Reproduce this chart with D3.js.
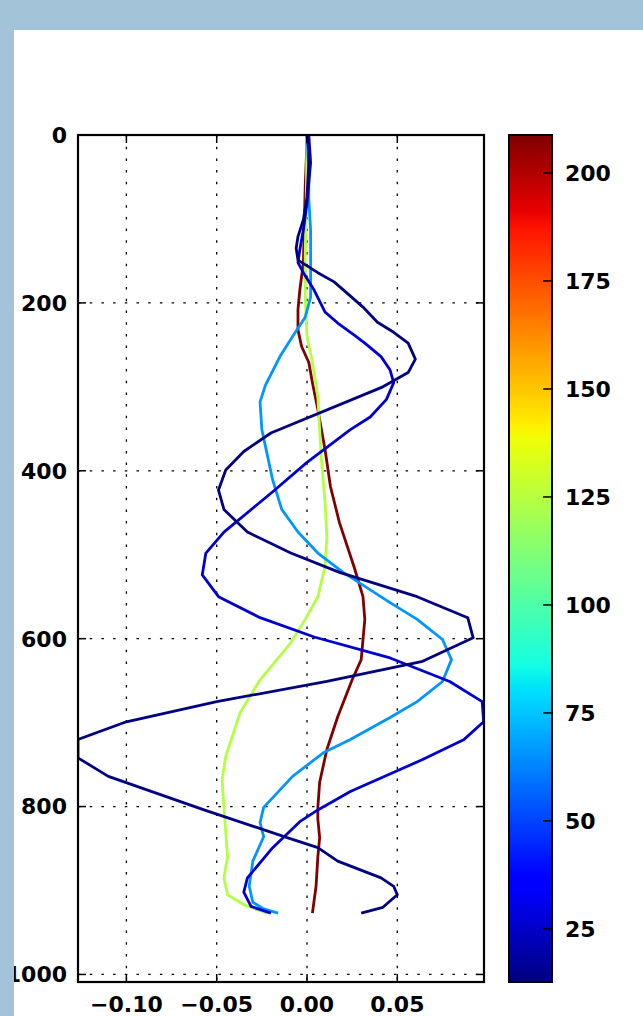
<!DOCTYPE html>
<html><head><meta charset="utf-8">
<script src="https://cdn.jsdelivr.net/npm/d3@7"></script>
<style>html,body{margin:0;padding:0;background:#fff;}svg{display:block;}</style>
</head><body>
<script>
// ---- data ----
const seriesValues = [208.8, 124, 66, 26, 12.7]; // colour values (drawn in this order)
const depthE = [0,30,62,152,185,208,232,252,271,295,327,351,375,419,462,514,550,577,601,625,649,693,732,771,801,815,837,860,895,927];
const uE = [0.000,-0.0004,-0.001,-0.002,-0.004,-0.005,-0.005,-0.003,0.001,0.003,0.006,0.008,0.010,0.013,0.018,0.026,0.031,0.032,0.031,0.030,0.025,0.017,0.011,0.007,0.006,0.006,0.007,0.006,0.005,0.003];
const depthD = [0,77,145,193,240,271,312,351,387,438,479,514,550,577,605,649,688,740,768,801,860,885,905,917,927];
const uD = [0.000,-0.0004,-0.001,-0.001,0.000,0.003,0.006,0.007,0.008,0.010,0.011,0.010,0.006,-0.001,-0.009,-0.026,-0.037,-0.045,-0.047,-0.046,-0.044,-0.046,-0.044,-0.035,-0.022];
const depthC = [0,42,77,113,169,193,217,240,264,298,318,351,411,446,473,498,521,557,577,601,625,651,675,694,720,736,764,801,819,836,865,895,914,922,927];
const uC = [0.000,0.001,0.001,0.002,0.002,0.002,-0.001,-0.008,-0.015,-0.023,-0.026,-0.025,-0.019,-0.014,-0.005,0.006,0.020,0.046,0.061,0.075,0.080,0.075,0.061,0.046,0.024,0.009,-0.008,-0.024,-0.026,-0.024,-0.030,-0.032,-0.030,-0.024,-0.016];
const depthB = [0,33,81,113,137,152,164,185,211,224,238,248,264,280,295,315,336,351,390,425,473,498,524,550,575,598,623,651,675,699,720,744,782,804,818,849,885,902,919,927];
const uB = [0.001,0.002,0.000,-0.002,-0.004,-0.005,-0.002,0.004,0.010,0.017,0.026,0.032,0.041,0.046,0.048,0.044,0.035,0.024,0.000,-0.019,-0.046,-0.056,-0.058,-0.049,-0.026,0.004,0.046,0.079,0.097,0.0978,0.087,0.064,0.024,0.006,-0.004,-0.019,-0.033,-0.035,-0.031,-0.020];
const depthA = [0,18,33,74,101,121,135,149,164,175,188,205,223,235,248,267,283,300,355,377,399,423,446,473,498,521,550,575,599,627,651,675,699,720,742,764,804,837,849,865,885,895,905,920,927];
const uA = [0.000,0.001,0.001,0.000,-0.002,-0.005,-0.006,-0.005,0.006,0.015,0.022,0.031,0.039,0.048,0.056,0.060,0.056,0.042,-0.020,-0.035,-0.045,-0.049,-0.046,-0.033,-0.009,0.018,0.061,0.089,0.092,0.064,0.011,-0.050,-0.100,-0.1268,-0.1268,-0.110,-0.057,-0.011,0.006,0.017,0.041,0.048,0.050,0.042,0.030];
const xTicks = [-0.10, -0.05, 0.00, 0.05];
const yTicks = [0, 200, 400, 600, 800, 1000];
const cTicks = [25, 50, 75, 100, 125, 150, 175, 200];
const xDomain = [-0.1268, 0.098];
const yDomain = [0, 1009];
const cDomain = [12.7, 208.8];

const series = [
  {v: seriesValues[0], d: depthE, u: uE},
  {v: seriesValues[1], d: depthD, u: uD},
  {v: seriesValues[2], d: depthC, u: uC},
  {v: seriesValues[3], d: depthB, u: uB},
  {v: seriesValues[4], d: depthA, u: uA}
];

// matplotlib jet
function seg(t, pts){
  for(let i=1;i<pts.length;i++){
    if(t<=pts[i][0]){const [x0,y0]=pts[i-1],[x1,y1]=pts[i];return y0+(y1-y0)*(t-x0)/(x1-x0);}
  }
  return pts[pts.length-1][1];
}
function jet(t){
  t=Math.max(0,Math.min(1,t));
  const r=seg(t,[[0,0],[0.35,0],[0.66,1],[0.89,1],[1,0.5]]);
  const g=seg(t,[[0,0],[0.125,0],[0.375,1],[0.64,1],[0.91,0],[1,0]]);
  const b=seg(t,[[0,0.5],[0.11,1],[0.34,1],[0.65,0],[1,0]]);
  return d3.rgb(r*255,g*255,b*255).formatHex();
}

const W=643,H=1016;
const L=78,R=484,T=135,B=982;
const CB={x0:509,x1:552};
const FONT="'DejaVu Sans', sans-serif";
const FS=22;

const svg=d3.select("body").append("svg").attr("width",W).attr("height",H);
svg.append("rect").attr("width",W).attr("height",H).attr("fill","#fff");

const x=d3.scaleLinear().domain(xDomain).range([L,R]);
const y=d3.scaleLinear().domain(yDomain).range([T,B]);
const cnorm=d3.scaleLinear().domain(cDomain).range([0,1]);
const cy=d3.scaleLinear().domain(cDomain).range([B,T]);

// clip
svg.append("clipPath").attr("id","clip").append("rect").attr("x",L).attr("y",T).attr("width",R-L).attr("height",B-T);

// grid
const grid=svg.append("g");
grid.selectAll(".gx").data(xTicks).join("line")
  .attr("x1",d=>x(d)).attr("x2",d=>x(d)).attr("y1",T).attr("y2",B)
  .attr("stroke","#000").attr("stroke-width",1.3).attr("stroke-dasharray","2.5,9.2");
grid.selectAll(".gy").data(yTicks).join("line")
  .attr("x1",L).attr("x2",R).attr("y1",d=>y(d)).attr("y2",d=>y(d))
  .attr("stroke","#000").attr("stroke-width",1.3).attr("stroke-dasharray","2.5,9.2");

// lines
const line=d3.line().x(p=>x(p[0])).y(p=>y(p[1]));
const lg=svg.append("g").attr("clip-path","url(#clip)");
series.forEach(s=>{
  const pts=s.u.map((u,i)=>[u,s.d[i]]);
  lg.append("path").attr("d",line(pts)).attr("fill","none")
    .attr("stroke",jet(cnorm(s.v))).attr("stroke-width",2.8).attr("stroke-linejoin","round");
});

// ticks (inward, all sides)
const tk=svg.append("g").attr("stroke","#000").attr("stroke-width",1.5);
xTicks.forEach(d=>{
  tk.append("line").attr("x1",x(d)).attr("x2",x(d)).attr("y1",T).attr("y2",T+8);
  tk.append("line").attr("x1",x(d)).attr("x2",x(d)).attr("y1",B).attr("y2",B-8);
});
yTicks.forEach(d=>{
  tk.append("line").attr("x1",L).attr("x2",L+8).attr("y1",y(d)).attr("y2",y(d));
  tk.append("line").attr("x1",R).attr("x2",R-8).attr("y1",y(d)).attr("y2",y(d));
});

// frame
svg.append("rect").attr("x",L).attr("y",T).attr("width",R-L).attr("height",B-T)
  .attr("fill","none").attr("stroke","#000").attr("stroke-width",2.2);

// tick labels
const fmtX=d=>(d<0?"\u2212":"")+Math.abs(d).toFixed(2);
svg.append("g").selectAll("text").data(xTicks).join("text")
  .attr("x",d=>x(d)).attr("y",1012).attr("text-anchor","middle")
  .attr("font-family",FONT).attr("font-weight","bold").attr("font-size",FS)
  .text(fmtX);
svg.append("g").selectAll("text").data(yTicks).join("text")
  .attr("x",67).attr("y",d=>y(d)).attr("dy","0.36em").attr("text-anchor","end")
  .attr("font-family",FONT).attr("font-weight","bold").attr("font-size",FS)
  .text(d=>d);

// colorbar
const defs=svg.append("defs");
const grad=defs.append("linearGradient").attr("id","jetg").attr("x1",0).attr("y1",1).attr("x2",0).attr("y2",0);
d3.range(0,101).forEach(i=>{grad.append("stop").attr("offset",i/100).attr("stop-color",jet(i/100));});
svg.append("rect").attr("x",CB.x0).attr("y",T).attr("width",CB.x1-CB.x0).attr("height",B-T)
  .attr("fill","url(#jetg)").attr("stroke","#000").attr("stroke-width",2);
const ctk=svg.append("g");
cTicks.forEach(d=>{
  ctk.append("line").attr("x1",CB.x1-9).attr("x2",CB.x1).attr("y1",cy(d)).attr("y2",cy(d))
    .attr("stroke","#000").attr("stroke-width",1.5);
  ctk.append("text").attr("x",565).attr("y",cy(d)).attr("dy","0.36em")
    .attr("font-family",FONT).attr("font-weight","bold").attr("font-size",FS).text(d);
});

// light blue frame strips
svg.append("rect").attr("x",0).attr("y",0).attr("width",W).attr("height",30).attr("fill","#a3c4d8");
svg.append("rect").attr("x",0).attr("y",0).attr("width",14).attr("height",H).attr("fill","#a3c4d8");
</script>
</body></html>
